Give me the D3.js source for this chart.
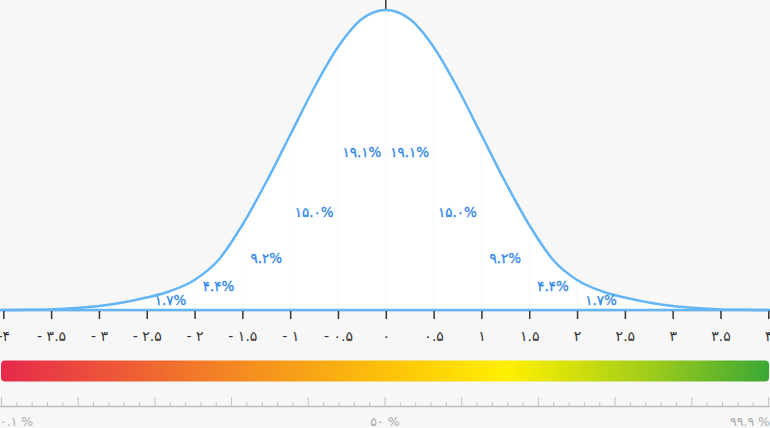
<html lang="fa">
<head>
<meta charset="UTF-8">
<script src="https://d3js.org/d3.v7.min.js"></script>
<style>
  body { margin:0; background:#f7f7f7; }
  svg { display:block; font-family:"DejaVu Sans", sans-serif; }
</style>
</head>
<body>
<div id="chart"></div>
<script>
// z values and the curve's height (density units)
const zValues = [-4,-3.75,-3.5,-3.25,-3,-2.75,-2.5,-2.25,-2,-1.75,-1.5,-1.25,-1,-0.75,-0.5,-0.25,
  0,0.25,0.5,0.75,1,1.25,1.5,1.75,2,2.25,2.5,2.75,3,3.25,3.5,3.75,4];
const density = [0.0001,0.0002,0.0007,0.0027,0.0053,0.0100,0.0166,0.0253,0.0399,0.0665,0.1130,0.1702,0.2327,0.2952,0.3497,0.3869,
  0.3989,0.3869,0.3497,0.2952,0.2327,0.1702,0.1130,0.0665,0.0399,0.0253,0.0166,0.0100,0.0053,0.0027,0.0007,0.0002,0.0001];

// axis ticks
const tickValues = [-4,-3.5,-3,-2.5,-2,-1.5,-1,-0.5,0,0.5,1,1.5,2,2.5,3,3.5,4];
const tickLabels = ["-۴","- ۳.۵","- ۳","- ۲.۵","- ۲","- ۱.۵","- ۱","- ۰.۵","۰","۰.۵","۱","۱.۵","۲","۲.۵","۳","۳.۵","۴"];

// share of each half-sigma band
const bandCenters = [-2.25,-1.75,-1.25,-0.75,-0.25,0.25,0.75,1.25,1.75,2.25];
const bandLabels = ["۱.۷%","۴.۴%","۹.۲%","۱۵.۰%","۱۹.۱%","۱۹.۱%","۱۵.۰%","۹.۲%","۴.۴%","۱.۷%"];

// percentile ruler
const percentileLabels = ["۰.۱ %","۵۰ %","۹۹.۹ %"];
const rulerTicks = d3.range(0, 51);

const W = 770, H = 428;
const baseY = 310;

const svg = d3.select("#chart").append("svg")
  .attr("width", W).attr("height", H);

svg.append("rect").attr("width", W).attr("height", H).attr("fill", "#f7f7f7");

const x = d3.scaleLinear().domain([-4, 4]).range([3.3, 768.3]);
const y = d3.scaleLinear().domain([0, 0.3989]).range([baseY, 10]);

const pts = zValues.map((z, i) => [z, density[i]]);

const area = d3.area()
  .x(d => x(d[0])).y0(baseY).y1(d => y(d[1]))
  .curve(d3.curveMonotoneX);
const line = d3.line()
  .x(d => x(d[0])).y(d => y(d[1]))
  .curve(d3.curveMonotoneX);

svg.append("defs").append("clipPath").attr("id", "under")
  .append("path").attr("d", area(pts));

svg.append("path").attr("d", area(pts)).attr("fill", "#ffffff");

// faint grid under the curve
svg.append("g").attr("clip-path", "url(#under)")
  .selectAll("line").data(tickValues).enter().append("line")
  .attr("x1", d => x(d)).attr("x2", d => x(d))
  .attr("y1", 0).attr("y2", baseY)
  .attr("stroke", "#f9f9f9").attr("stroke-width", 1);

// axis line
svg.append("line").attr("x1", 0).attr("x2", W).attr("y1", baseY + 1).attr("y2", baseY + 1)
  .attr("stroke", "#d6d6d6").attr("stroke-width", 1);

// top tick at the mean
svg.append("line").attr("x1", x(0)).attr("x2", x(0)).attr("y1", 0).attr("y2", 9)
  .attr("stroke", "#333").attr("stroke-width", 1.5);

// curve
svg.append("line").attr("x1", 0).attr("x2", W).attr("y1", baseY).attr("y2", baseY)
  .attr("stroke", "#64b5f6").attr("stroke-width", 2.5);
svg.append("path").attr("d", line(pts))
  .attr("fill", "none").attr("stroke", "#64b5f6").attr("stroke-width", 2.5);

// bottom axis
const axis = d3.axisBottom(x).tickValues(tickValues)
  .tickFormat((d, i) => tickLabels[i]).tickSize(8).tickPadding(12);
const ax = svg.append("g").attr("transform", `translate(0, ${baseY + 1})`).call(axis);
ax.select(".domain").remove();
ax.selectAll(".tick line").attr("stroke", "#333").attr("stroke-width", 1.5);
ax.selectAll(".tick text").attr("fill", "#333").attr("font-size", 14)
  .attr("font-family", "DejaVu Sans, sans-serif");

// band percentages (pixel heights above the baseline)
const labelRise = [10, 24, 52, 98, 158, 158, 98, 52, 24, 10];
svg.append("g").selectAll("text").data(bandCenters).enter().append("text")
  .attr("x", d => x(d))
  .attr("y", (d, i) => baseY - labelRise[i])
  .attr("dy", "0.35em")
  .attr("text-anchor", "middle")
  .attr("fill", "#2f86ea")
  .attr("font-size", 13.5)
  .attr("stroke", "#2f86ea").attr("stroke-width", 0.3)
  .text((d, i) => bandLabels[i]);

// gradient bar
const grad = svg.select("defs").append("linearGradient").attr("id", "bar");
[["0%", "#e6294c"], ["33%", "#f5901f"], ["50%", "#fcc10a"], ["66%", "#fff000"], ["85%", "#9ccb1c"], ["100%", "#3aa835"]]
  .forEach(s => grad.append("stop").attr("offset", s[0]).attr("stop-color", s[1]));
svg.append("rect").attr("x", 1).attr("y", 360.5).attr("width", 768).attr("height", 21)
  .attr("rx", 4).attr("fill", "url(#bar)");

// percentile ruler
const r = d3.scaleLinear().domain([0, 50]).range([1.5, 768.5]);
svg.append("line").attr("x1", 0).attr("x2", W).attr("y1", 406.5).attr("y2", 406.5)
  .attr("stroke", "#bdbdbd").attr("stroke-width", 1.5);
svg.append("g").selectAll("line").data(rulerTicks).enter().append("line")
  .attr("x1", d => r(d)).attr("x2", d => r(d))
  .attr("y1", d => d % 5 === 0 ? 397 : 402).attr("y2", 406)
  .attr("stroke", "#c4c4c4").attr("stroke-width", 1);

svg.append("g").selectAll("text").data(percentileLabels).enter().append("text")
  .attr("x", (d, i) => [0, W / 2, W][i])
  .attr("y", 426)
  .attr("text-anchor", (d, i) => ["start", "middle", "end"][i])
  .attr("fill", "#aaaaaa")
  .attr("font-size", 12.5)
  .text(d => d);
</script>
</body>
</html>
